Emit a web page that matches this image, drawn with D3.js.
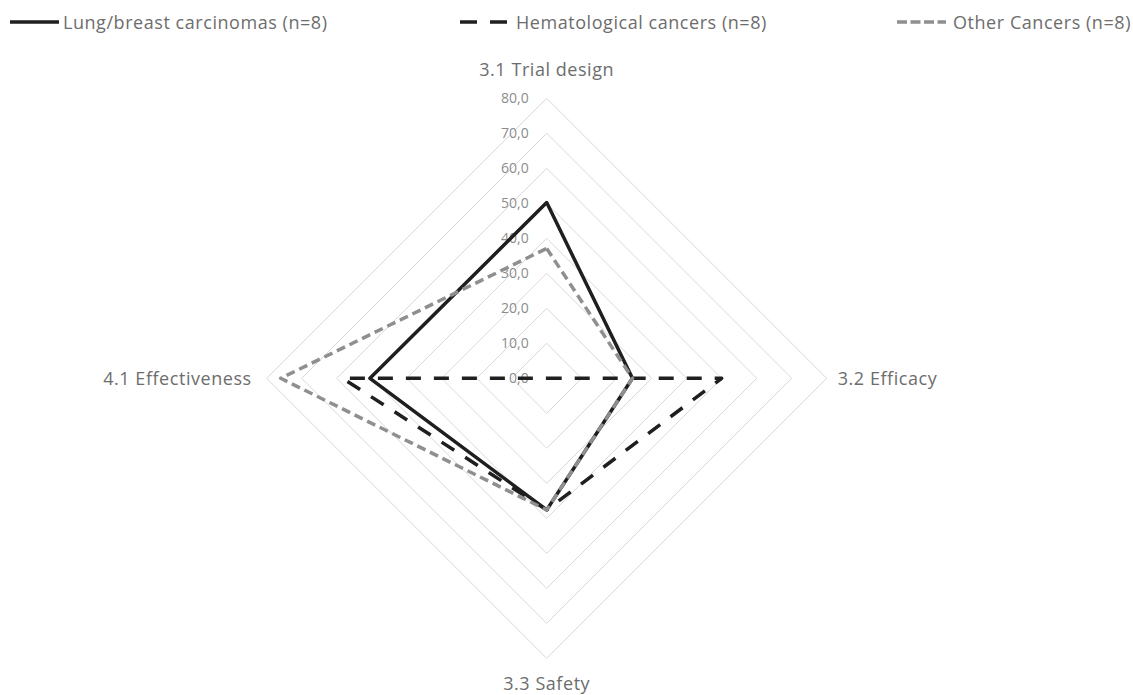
<!DOCTYPE html>
<html>
<head>
<meta charset="utf-8">
<script src="https://cdn.jsdelivr.net/npm/d3@7"></script>
<style>
  html, body { margin: 0; padding: 0; background: #fff; }
  svg { display: block; }
  text { font-family: "Open Sans", Lato, sans-serif; }
</style>
</head>
<body>
<svg id="chart" width="1133" height="695"></svg>
<script>
const categories = ["3.1 Trial design", "3.2 Efficacy", "3.3 Safety", "4.1 Effectiveness"];
const seriesNames = ["Lung/breast carcinomas (n=8)", "Hematological cancers (n=8)", "Other Cancers (n=8)"];
const lungBreast = [50.2, 24.5, 37.6, 50.5];
const hematological = [0.0, 50.0, 37.6, 58.3];
const otherCancers = [37.1, 24.5, 37.6, 76.0];
const tickValues = [0, 10, 20, 30, 40, 50, 60, 70, 80];
const tickLabels = ["0,0", "10,0", "20,0", "30,0", "40,0", "50,0", "60,0", "70,0", "80,0"];

const svg = d3.select("#chart");
const cx = 546.7, cy = 378.3, R = 280;
const r = d3.scaleLinear().domain([0, 80]).range([0, R]);
const angle = d3.scalePoint().domain(d3.range(categories.length)).range([0, 2 * Math.PI * (categories.length - 1) / categories.length]);
const pt = (i, v) => {
  const a = angle(i) - Math.PI / 2;
  return [cx + r(v) * Math.cos(a), cy + r(v) * Math.sin(a)];
};
const lineGen = d3.line().curve(d3.curveLinearClosed);

// grid
const g = svg.append("g");
g.selectAll("path.grid").data(tickValues.filter(t => t > 0)).join("path")
  .attr("class", "grid")
  .attr("d", t => lineGen(categories.map((c, i) => pt(i, t))))
  .attr("fill", "none").attr("stroke", "#d9d9d9").attr("stroke-width", 1);

// tick labels
g.selectAll("text.tick").data(tickValues).join("text")
  .attr("class", "tick")
  .attr("x", cx - 18)
  .attr("y", t => cy - r(t))
  .attr("dy", "0.35em")
  .attr("text-anchor", "end")
  .attr("font-size", 14)
  .attr("fill", "#8c8c8c")
  .text((t, i) => tickLabels[i]);

// category labels (baseline positions relative to the outer ring)
const labelOffsets = [[0, -22], [11, 6.5], [0, 312 - R + 0], [-15, 6.5]];
const anchors = ["middle", "start", "middle", "end"];
g.selectAll("text.cat").data(categories).join("text")
  .attr("class", "cat")
  .attr("x", (c, i) => pt(i, 80)[0] + labelOffsets[i][0])
  .attr("y", (c, i) => i === 2 ? 690 : pt(i, 80)[1] + labelOffsets[i][1])
  .attr("text-anchor", (c, i) => anchors[i])
  .attr("font-size", 18)
  .attr("letter-spacing", 0.55)
  .attr("fill", "#6d6d6d")
  .text(c => c);

const series = [
  { name: seriesNames[0], values: lungBreast, color: "#1f1f1f", dash: null },
  { name: seriesNames[1], values: hematological, color: "#1f1f1f", dash: "15,13" },
  { name: seriesNames[2], values: otherCancers, color: "#8f8f8f", dash: "9,5" }
];

svg.append("g").selectAll("path.series").data(series).join("path")
  .attr("class", "series")
  .attr("d", s => lineGen(s.values.map((v, i) => pt(i, v))))
  .attr("fill", "none")
  .attr("stroke", s => s.color)
  .attr("stroke-width", 3.5)
  .attr("stroke-linejoin", "round")
  .attr("stroke-dasharray", s => s.dash);

// legend
const legendX = [10, 460, 897];
const leg = svg.append("g").selectAll("g").data(series).join("g")
  .attr("transform", (s, i) => `translate(${legendX[i]},22)`);
leg.append("line")
  .attr("x1", 0).attr("x2", 49).attr("y1", 0).attr("y2", 0)
  .attr("stroke", s => s.color).attr("stroke-width", 3.5)
  .attr("stroke-dasharray", (s, i) => i === 1 ? "17,13" : (i === 2 ? "10,3.5" : null));
leg.append("text")
  .attr("x", (s, i) => i === 0 ? 53 : 56)
  .attr("y", 6.5)
  .attr("font-size", 18)
  .attr("letter-spacing", 0.55)
  .attr("fill", "#6d6d6d")
  .text(s => s.name);
</script>
</body>
</html>
